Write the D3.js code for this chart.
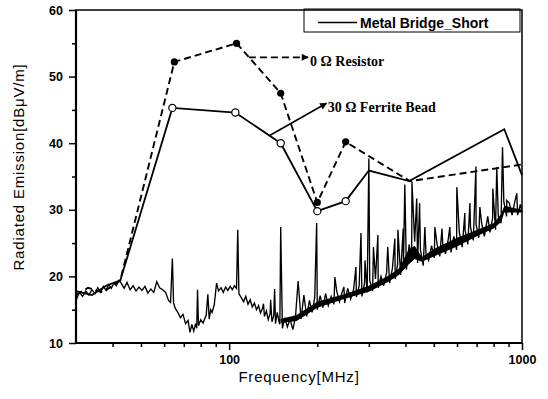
<!DOCTYPE html>
<html>
<head>
<meta charset="utf-8">
<script src="https://cdn.jsdelivr.net/npm/d3@7"></script>
<style>
	body{margin:0;background:#fff;}
	svg{display:block;}
	.axis path.domain{display:none;}
	.axis line{stroke:#000;stroke-width:1.5;}
	.axis text{font-family:'Liberation Sans',Arial,sans-serif;font-weight:bold;font-size:12.5px;fill:#000;}
	.title{font-family:'Liberation Sans',Arial,sans-serif;font-size:15px;letter-spacing:0.8px;fill:#000;}
	.note{font-family:'Liberation Serif','Times New Roman',serif;font-weight:bold;font-size:14px;fill:#000;}
	.legend text{font-family:'Liberation Sans',Arial,sans-serif;font-weight:bold;font-size:14px;fill:#000;}
</style>
</head>
<body>
<div id="chart" style="width:548px;height:399px;"></div>
<script>
//axis ticks
const yTicks = [10,20,30,40,50,60];
const yMinor = [15,25,35,45,55];
const xTicks = [100,1000];
const xMinor = [40,50,60,70,80,90,200,300,400,500,600,700,800,900];

//0 ohm resistor (dashed, filled dots)
const resistorFreq = [30,33,37,42.5,65,106,150,200,250,414,1000];
const resistorDb = [17.2,18.3,17.6,19.4,52.2,55.0,47.5,31.1,40.2,34.3,36.8];
const resistorMarks = [65,106,150,200,250];

//30 ohm ferrite bead (solid, open dots)
const ferriteFreq = [30,34,38,42.5,64,105,150,200,250,300,412,870,1000];
const ferriteDb = [17.8,17.2,18.6,19.4,45.3,44.6,40.0,29.8,31.3,35.9,34.3,42.1,35.2];
const ferriteMarks = [64,105,150,200,250];

//metal bridge_short spectrum, [MHz, dBuV/m]
const noiseTrace = [
	[30,16.4],[30.8,17.6],[31.6,17.0],[32.4,17.8],[33.2,17.2],[34,18.0],[34.8,17.4],[35.6,18.3],[36.4,17.6],[37.2,18.5],
	[38,17.9],[38.8,18.8],[39.6,18.2],[40.4,19.0],[41.2,18.6],[42,19.4],[42.8,19.0],[43.8,18.2],[44.8,19.1],[45.9,18.0],
	[47,18.6],[48.1,17.8],[49.2,18.4],[50.4,17.9],[51.6,18.5],[52.8,17.5],[54,18.1],[55.3,17.6],[56.6,19.2],[57.9,18.3],
	[59.3,18.0],[60.7,17.6],[62.1,16.4],[63.1,16.1],[64.6,16.0],[65.5,15.2],[66.8,14.6],[68.2,13.8],[69.6,14.3],[71,12.9],
	[72.4,13.4],[73.5,11.6],[74.6,12.8],[75.7,11.8],[76.8,12.9],[77.5,12.2],[78.6,12.6],[80,13.5],[81.5,13.0],[83.5,14.2],
	[85.5,13.6],[86.5,15.0],[87.5,14.6],[89,15.8],[90.6,19.0],[92,17.8],[93.8,18.3],[95.5,17.6],[97.3,18.4],[99,17.9],
	[100.8,18.5],[102.5,18.0],[104.3,18.6],[106,18.2],[108,17.4],[110,16.8],[112,16.2],[114,17.0],[116,15.8],[118,16.5],
	[120,15.4],[122,16.0],[124,15.0],[126,15.6],[128,14.5],[130,15.2],[132,14.0],[134,14.8],[136,13.5],[138,14.4],
	[140,13.2],[142,14.1],[144,12.9],[146,14.6],[148,13.2],[149,12.8],[152,12.2],[155,13.8],[158,12.4],[161.5,13.6],
	[165,12.0],[168.5,13.9],[172,19.3],[176,13.6],[180,17.2],[184,14.0],[188,16.4],[192,14.6],[196,16.8],[200,15.0],
	[204.5,17.1],[209,15.3],[213.5,17.4],[218,15.6],[223,17.0],[228,15.8],[233,17.8],[238,16.2],[243,17.6],[248,16.0],
	[254,18.2],[260,16.6],[266,18.0],[272,16.9],[278,18.6],[284,17.0],[290,19.0],[296,17.6],[302,19.4],[309,17.8],
	[316,19.6],[323,18.3],[330,20.0],[337,18.6],[345,20.6],[353,19.0],[361,21.2],[369,19.6],[376,21.8],[385,20.2],
	[394,22.4],[403,21.0],[412,24.8],[420,22.4],[430,25.2],[440,22.0],[450,24.0],[460,21.6],[470,23.4],[480,22.4],
	[491,24.6],[502,22.8],[513,24.8],[524,23.0],[536,25.0],[548,23.4],[560,25.6],[572,23.6],[585,26.0],[598,24.0],
	[611,26.6],[625,24.4],[639,27.0],[653,24.8],[667,27.4],[682,25.4],[697,27.8],[712,25.8],[728,28.0],[744,26.0],
	[760,28.4],[777,26.6],[794,28.8],[812,27.0],[830,29.0],[848,28.0],[867,31.2],[886,29.0],[905,31.0],[925,29.2],
	[945,31.2],[966,29.2],[987,30.8],[1000,29.6]
];
const noiseSpikes = [
	[64,22.7],[78,18.0],[84.6,17.3],[107,27.0],[131,15.9],[138.6,16.5],[143,18.1],[150,27.4],[199,28.0],[229.6,19.9],
	[246.6,18.4],[271,21.4],[282,26.5],[291,22.4],[300,37.7],[311,24.4],[322,26.2],[348,24.4],[368,25.7],[377,27.0],
	[393,27.2],[398,33.8],[421,34.2],[437,31.7],[447,31.0],[466,27.4],[504,27.4],[533,27.2],[567,27.4],[599,33.4],
	[638,29.5],[664,31.0],[696,36.5],[718,30.4],[764,29.0],[795,33.2],[820,36.4],[858,39.4],[887,31.4],[960,32.5]
];
//dense core of the trace above 150 MHz: lower / upper edge
const bandFreq = [150,170,200,250,300,350,380,410,430,455,500,600,715,800,850,870,1000];
const bandLow = [13.0,13.3,15.3,16.7,17.7,19.2,20.2,21.8,22.6,22.2,23.0,24.5,26.2,27.2,28.2,29.6,29.6];
const bandHigh = [13.6,14.2,16.2,17.4,18.6,20.1,21.2,24.0,24.6,22.9,24.1,25.8,27.1,28.0,29.4,30.6,30.0];

function drawChart(root){
	const width = 548;
	const height = 399;
	const margin = {t:10,r:26,b:56,l:76};
	const w = width - margin.l - margin.r;
	const h = height - margin.t - margin.b;

	const svg = d3.select(root).append('svg')
		.attr('width',width)
		.attr('height',height);

	//arrow heads
	const defs = svg.append('defs');
	defs.append('marker')
		.attr('id','arrow')
		.attr('viewBox','0 0 10 10')
		.attr('refX',9).attr('refY',5)
		.attr('markerWidth',8).attr('markerHeight',7)
		.attr('markerUnits','userSpaceOnUse')
		.attr('orient','auto')
		.append('path')
		.attr('d','M0,0L10,5L0,10Z')
		.style('fill','#000');

	const plot = svg.append('g')
		.attr('transform',`translate(${margin.l},${margin.t})`);

	//scales
	const scaleX = d3.scaleLog().domain([30,1000]).range([0,w]);
	const scaleY = d3.scaleLinear().domain([10,60]).range([h,0]);

	//axes
	const axisY = d3.axisLeft(scaleY).tickValues(yTicks).tickSize(7).tickPadding(6).tickFormat(d3.format('d'));
	const axisYMinor = d3.axisLeft(scaleY).tickValues(yMinor).tickSize(4).tickFormat('');
	const axisX = d3.axisBottom(scaleX).tickValues(xTicks).tickSize(7).tickPadding(5).tickFormat(d3.format('d'));
	const axisXMinor = d3.axisBottom(scaleX).tickValues(xMinor).tickSize(4).tickFormat('');

	plot.append('g').attr('class','axis axis-y').call(axisY);
	plot.append('g').attr('class','axis axis-y minor').call(axisYMinor);
	plot.append('g').attr('class','axis axis-x').attr('transform',`translate(0,${h})`).call(axisX);
	plot.append('g').attr('class','axis axis-x minor').attr('transform',`translate(0,${h})`).call(axisXMinor);

	//spectrum: dense core first, then the trace with its spikes merged in by frequency
	const band = d3.area()
		.x((d,i) => scaleX(bandFreq[i]))
		.y0((d,i) => scaleY(bandLow[i]))
		.y1((d,i) => scaleY(bandHigh[i]));
	plot.append('path')
		.datum(bandFreq)
		.attr('d',band)
		.style('fill','#000');

	const trace = noiseTrace.concat(noiseSpikes).sort((a,b) => a[0] - b[0]);
	const line = d3.line()
		.x(d => scaleX(d[0]))
		.y(d => scaleY(d[1]));

	plot.append('path')
		.datum(trace)
		.attr('d',line)
		.style('fill','none')
		.style('stroke','#000')
		.style('stroke-width',1.35)
		.style('stroke-linejoin','miter');

	//resistor & ferrite curves
	const resistor = resistorFreq.map((f,i) => [f,resistorDb[i]]);
	const ferrite = ferriteFreq.map((f,i) => [f,ferriteDb[i]]);

	plot.append('path')
		.datum(ferrite)
		.attr('d',line)
		.style('fill','none')
		.style('stroke','#000')
		.style('stroke-width',1.8);

	plot.append('path')
		.datum(resistor)
		.attr('d',line)
		.style('fill','none')
		.style('stroke','#000')
		.style('stroke-width',1.9)
		.style('stroke-dasharray','7,4');

	plot.selectAll('.dot-r')
		.data(resistor.filter(d => resistorMarks.includes(d[0])))
		.enter().append('circle')
		.attr('class','dot-r')
		.attr('cx',d => scaleX(d[0]))
		.attr('cy',d => scaleY(d[1]))
		.attr('r',3.6)
		.style('fill','#000');

	plot.selectAll('.dot-f')
		.data(ferrite.filter(d => ferriteMarks.includes(d[0])))
		.enter().append('circle')
		.attr('class','dot-f')
		.attr('cx',d => scaleX(d[0]))
		.attr('cy',d => scaleY(d[1]))
		.attr('r',3.6)
		.style('fill','#fff')
		.style('stroke','#000')
		.style('stroke-width',1.2);

	//annotations
	plot.append('line')
		.attr('x1',scaleX(116.8)).attr('y1',scaleY(52.9))
		.attr('x2',scaleX(186)).attr('y2',scaleY(52.9))
		.attr('marker-end','url(#arrow)')
		.style('stroke','#000')
		.style('stroke-width',1.8)
		.style('stroke-dasharray','7,4');
	plot.append('text')
		.attr('class','note')
		.attr('x',scaleX(189)).attr('y',scaleY(51.6))
		.text('0 Ω Resistor');

	plot.append('line')
		.attr('x1',scaleX(138)).attr('y1',scaleY(41.2))
		.attr('x2',scaleX(215)).attr('y2',scaleY(46))
		.attr('marker-end','url(#arrow)')
		.style('stroke','#000')
		.style('stroke-width',1.6);
	plot.append('text')
		.attr('class','note')
		.attr('x',scaleX(217)).attr('y',scaleY(44.7))
		.text('30 Ω Ferrite Bead');

	//legend
	const legend = plot.append('g')
		.attr('class','legend')
		.attr('transform',`translate(${w-218},-1)`);
	legend.append('rect')
		.attr('width',216).attr('height',23)
		.style('fill','#fff')
		.style('stroke','#000')
		.style('stroke-width',1);
	legend.append('line')
		.attr('x1',14).attr('x2',53)
		.attr('y1',13.5).attr('y2',13.5)
		.style('stroke','#000')
		.style('stroke-width',1.5);
	legend.append('text')
		.attr('x',56).attr('y',18.5)
		.text('Metal Bridge_Short');

	//frame
	plot.append('rect')
		.attr('width',w).attr('height',h)
		.style('fill','none')
		.style('stroke','#000')
		.style('stroke-width',1.5);
	plot.append('path')
		.attr('d',`M0,0V${h}H${w}`)
		.style('fill','none')
		.style('stroke','#000')
		.style('stroke-width',2.2);

	//titles
	svg.append('text')
		.attr('class','title')
		.attr('x',margin.l + w/2)
		.attr('y',382)
		.attr('text-anchor','middle')
		.text('Frequency[MHz]');
	svg.append('text')
		.attr('class','title')
		.attr('transform','translate(24,167) rotate(-90)')
		.attr('text-anchor','middle')
		.text('Radiated Emission[dBμV/m]');
}

drawChart(document.getElementById('chart'));
</script>
</body>
</html>
